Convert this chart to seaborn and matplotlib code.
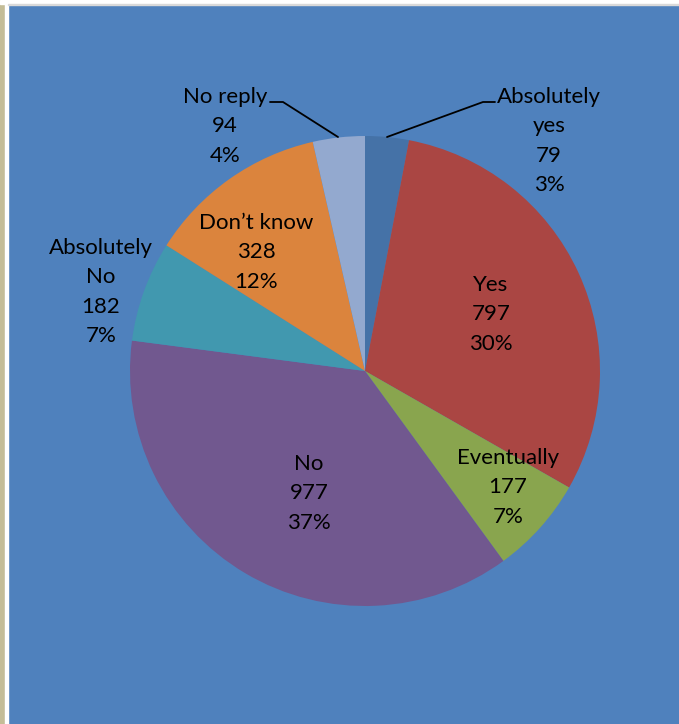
import matplotlib
matplotlib.use("Agg")
import matplotlib.pyplot as plt
import seaborn as sns
from matplotlib.patches import Rectangle

# survey answers, clockwise from 12 o'clock
answers = ["Absolutely\nyes", "Yes", "Eventually", "No", "Absolutely\nNo", "Don\u2019t know", "No reply"]
counts = [79, 797, 177, 977, 182, 328, 94]
percents = ["3%", "30%", "7%", "37%", "7%", "12%", "4%"]
colors = ["#4572A7", "#AA4643", "#89A54E", "#71588F", "#4198AF", "#DB843D", "#93A9CF"]

sns.set_theme(style="white")
plt.rcParams["font.family"] = ["Lato", "DejaVu Sans"]

W, H = 679, 724
fig = plt.figure(figsize=(W / 100, H / 100), dpi=100)
fig.patch.set_facecolor("#4F81BD")

# frame strips (left beige, white gap, top white)
fig.patches.append(Rectangle((0, 0), 5 / W, 1, transform=fig.transFigure, color="#C4BD97", zorder=0))
fig.patches.append(Rectangle((5 / W, 0), 3 / W, 1, transform=fig.transFigure, color="white", zorder=0))
fig.patches.append(Rectangle((0, 1 - 4 / H), 1, 4 / H, transform=fig.transFigure, color="white", zorder=0))
fig.patches.append(Rectangle((8 / W, 1 - 5 / H), 1, 1 / H, transform=fig.transFigure, color="#D9D9D9", zorder=0))

cx, cy, r = 365, 371, 235
ax = fig.add_axes([(cx - r) / W, (H - cy - r) / H, 2 * r / W, 2 * r / H])
ax.set_facecolor("none")
ax.pie(counts, colors=colors, startangle=90, counterclock=False, radius=1,
       wedgeprops=dict(linewidth=0))
ax.set_xlim(-1, 1)
ax.set_ylim(-1, 1)
ax.set_aspect("equal")
ax.axis("off")


def px(x, y):
    return (x - cx) / r, (cy - y) / r


# label centres (pixel positions of first line)
label_pos = [(549, 96), (491, 284), (508, 457), (309, 463), (101, 247), (256, 222), (225, 96)]
for name, n, p, (lx, ly) in zip(answers, counts, percents, label_pos):
    x, y = px(lx, ly - 9)
    ax.text(x, y, f"{name}\n{n}\n{p}", ha="center", va="top", fontsize=16,
            linespacing=1.58, color="black", clip_on=False,
            transform=ax.transData)

# leader lines
for pts in ([(270, 102), (283, 102), (338, 137)], [(387, 137), (483, 102), (495, 102)]):
    xs, ys = zip(*[px(a, b) for a, b in pts])
    ax.plot(xs, ys, color="black", lw=1.3, clip_on=False)

fig.savefig("out.png", dpi=100, facecolor=fig.get_facecolor())
